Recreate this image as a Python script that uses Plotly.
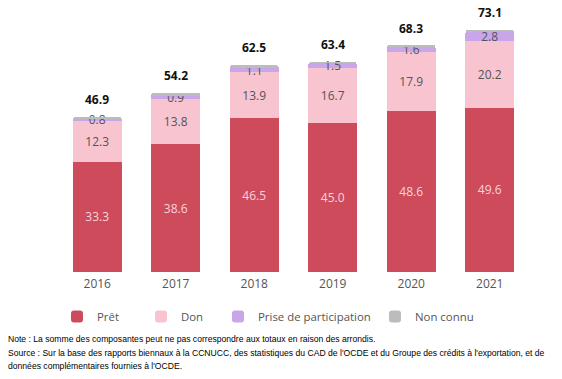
import plotly.graph_objects as go

years = ["2016", "2017", "2018", "2019", "2020", "2021"]
pret = [33.3, 38.6, 46.5, 45.0, 48.6, 49.6]
don = [12.3, 13.8, 13.9, 16.7, 17.9, 20.2]
prise = [0.8, 0.9, 1.1, 1.5, 1.6, 2.8]
non_connu = [0.5, 0.9, 1.0, 0.2, 0.2, 0.5]
totals = [46.9, 54.2, 62.5, 63.4, 68.3, 73.1]

names = ["Prêt", "Don", "Prise de participation", "Non connu"]
colors = ["#cd4b5b", "#f7c4cf", "#c9a5ea", "#bcbcbc"]

W, H = 562, 379
ML, MR, MT, MB = 58, 33, 10, 107
PW, PH = W - ML - MR, H - MT - MB

def px_x(x):
    return (x - ML) / PW

def px_y(y):
    return (H - MB - y) / PH

FONT = "Open Sans"

fig = go.Figure()

fig.add_trace(go.Bar(
    x=years, y=pret, name=names[0], marker_color=colors[0], marker_line_width=0,
    text=[f"{v:.1f}" for v in pret], textposition="inside", insidetextanchor="middle",
    textangle=0, textfont=dict(color="#f9d3db", size=12, family=FONT),
    legend="legend",
))
fig.add_trace(go.Bar(
    x=years, y=don, name=names[1], marker_color=colors[1], marker_line_width=0,
    text=[f"{v:.1f}" for v in don], textposition="inside", insidetextanchor="middle",
    textangle=0, textfont=dict(color="#555555", size=12, family=FONT),
    legend="legend2",
))
fig.add_trace(go.Bar(
    x=years, y=prise, name=names[2], marker_color=colors[2], marker_line_width=0,
    text=[f"{v:.1f}" for v in prise], textposition="inside", insidetextanchor="middle",
    textangle=0, constraintext="none", textfont=dict(color="#555555", size=12, family=FONT),
    legend="legend3",
))
fig.add_trace(go.Bar(
    x=years, y=non_connu, name=names[3], marker_color=colors[3], marker_line_width=0,
    textposition="none", legend="legend4",
))

for i, t in enumerate(totals):
    fig.add_annotation(x=i, y=t, text=f"<b>{t:.1f}</b>", showarrow=False,
                       yanchor="bottom", yshift=7,
                       font=dict(size=12, color="#111111", family=FONT))

notes = [
    "Note : La somme des composantes peut ne pas correspondre aux totaux en raison des arrondis.",
    "Source : Sur la base des rapports biennaux à la CCNUCC, des statistiques du CAD de l'OCDE et du Groupe des crédits à l'exportation, et de",
    "données complémentaires fournies à l'OCDE.",
]
for i, line in enumerate(notes):
    fig.add_annotation(xref="paper", yref="paper", x=px_x(6), y=px_y(339 + 13.5 * i),
                       xanchor="left", yanchor="middle", text=line, showarrow=False,
                       font=dict(size=8.6, color="#000000", family="Liberation Sans"))

leg_x = [57, 141, 218, 375]
legs = {}
for i, key in enumerate(["legend", "legend2", "legend3", "legend4"]):
    legs[key] = dict(x=leg_x[i] / W, xref="container", y=1 - 302 / H, yref="container",
                     xanchor="left", yanchor="top", orientation="h",
                     font=dict(size=11.4, color="#555555", family=FONT),
                     bgcolor="rgba(0,0,0,0)", itemwidth=30)

fig.update_layout(
    width=W, height=H, barmode="stack", bargap=0.376, barcornerradius=3,
    margin=dict(l=ML, r=MR, t=MT, b=MB, autoexpand=False),
    plot_bgcolor="white", paper_bgcolor="white",
    showlegend=True,
    xaxis=dict(type="category", showgrid=False, showline=False, ticks="",
               range=[-0.5, 5.5], ticklabelstandoff=3,
               tickfont=dict(size=12, color="#555555", family=FONT)),
    yaxis=dict(visible=False, range=[0, PH / 3.31]),
    **legs,
)

fig.write_html("out.html", config={"displayModeBar": False},
               post_script="document.body.style.margin='0';document.body.style.overflow='hidden';")
